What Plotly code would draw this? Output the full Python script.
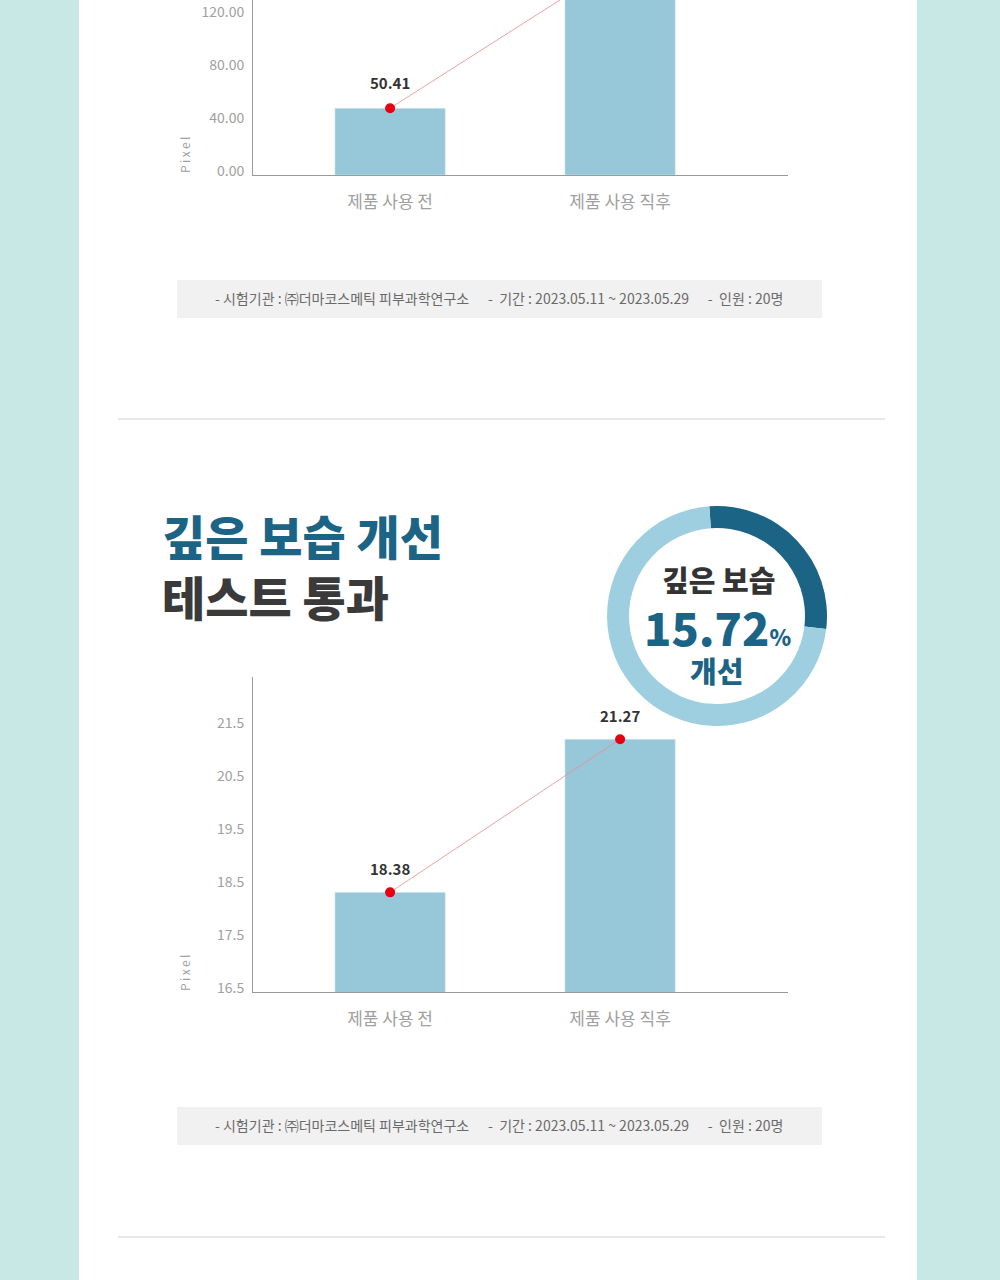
import plotly.graph_objects as go

# ---------------- data ----------------
categories = ["제품 사용 전", "제품 사용 직후"]
top_values = [50.41, 161.0]          # second value is cut off at page top (estimated)
top_ticks = [0, 40, 80, 120]
moist_values = [18.38, 21.27]
moist_ticks = [16.5, 17.5, 18.5, 19.5, 20.5, 21.5]
ring_values = [28, 72]               # dark arc / light arc as drawn
title_line1 = "깊은 보습 개선"
title_line2 = "테스트 통과"
badge_top = "깊은 보습"
badge_value = "15.72"
badge_bottom = "개선"
SP = "\u00a0"
info_text = ("- 시험기관 : ㈜더마코스메틱 피부과학연구소" + SP * 6 +
             "-" + SP * 2 + "기간 : 2023.05.11 ~ 2023.05.29" + SP * 6 +
             "-" + SP * 2 + "인원 : 20명")

# ---------------- style ----------------
W, H = 1000, 1280
FONT = "Noto Sans CJK KR"
BG = "#c8e8e6"
BAR = "#97c8da"
TEAL = "#1b6486"
RING_LIGHT = "#9dcfe0"
DARK = "#3a3a3a"
GRAY = "#a0a0a0"
RED = "#e60012"


def px(x):
    return x / W


def py(y):
    return 1 - y / H


fig = go.Figure()

fig.add_trace(go.Bar(x=categories, y=top_values, marker_color=BAR, width=0.48,
                     xaxis="x", yaxis="y", showlegend=False, hoverinfo="skip"))
fig.add_trace(go.Scatter(x=categories, y=top_values, mode="lines+markers",
                         line=dict(color="#ee8a8a", width=0.8),
                         marker=dict(color=RED, size=10),
                         xaxis="x", yaxis="y", showlegend=False, cliponaxis=True))
fig.add_trace(go.Bar(x=categories, y=moist_values, marker_color=BAR, width=0.48,
                     xaxis="x2", yaxis="y2", showlegend=False, hoverinfo="skip"))
fig.add_trace(go.Scatter(x=categories, y=moist_values, mode="lines+markers",
                         line=dict(color="#ee8a8a", width=0.8),
                         marker=dict(color=RED, size=10),
                         xaxis="x2", yaxis="y2", showlegend=False, cliponaxis=True))

fig.add_trace(go.Pie(values=ring_values, hole=0.8, sort=False, direction="clockwise",
                     rotation=-4, marker=dict(colors=[TEAL, RING_LIGHT], line=dict(width=0)),
                     textinfo="none", hoverinfo="skip", showlegend=False,
                     domain=dict(x=[px(607), px(827)], y=[py(726), py(506)])))

xr = [-0.596, 1.73]
common_x = dict(type="category", range=xr, showline=True, linecolor="#9a9a9a", linewidth=1,
                ticks="", showgrid=False, zeroline=False, fixedrange=True, automargin=False,
                tickfont=dict(family=FONT, size=17, color=GRAY), ticklabelstandoff=12)
common_y = dict(showline=True, linecolor="#9a9a9a", linewidth=1, ticks="", showgrid=False,
                zeroline=False, automargin=False, tickfont=dict(family=FONT, size=14, color=GRAY),
                ticklabelshift=-4, ticklabelstandoff=5)

top_scale = 40 / 53.0
fig.update_layout(
    width=W, height=H, autosize=False, margin=dict(l=0, r=0, t=0, b=0, pad=0, autoexpand=False),
    paper_bgcolor=BG, plot_bgcolor="rgba(0,0,0,0)",
    xaxis=dict(domain=[px(253), px(788)], anchor="y", **common_x),
    yaxis=dict(domain=[py(175), 1.0], anchor="x", range=[0, 175 * top_scale],
               tickvals=top_ticks, tickformat=".2f", **common_y),
    xaxis2=dict(domain=[px(253), px(788)], anchor="y2", **common_x),
    yaxis2=dict(domain=[py(992), py(677)], anchor="x2",
                range=[16.5, 16.5 + (992 - 677) / 53.0],
                tickvals=moist_ticks, tickformat=".1f", **common_y),
)

shapes = [
    dict(type="rect", xref="paper", yref="paper", x0=px(79), x1=px(917), y0=-0.01, y1=1,
         fillcolor="white", line=dict(width=0), layer="below"),
    dict(type="line", xref="paper", yref="paper", x0=px(118), x1=px(885), y0=py(419), y1=py(419),
         line=dict(color="#cfcfcf", width=1)),
    dict(type="line", xref="paper", yref="paper", x0=px(118), x1=px(885), y0=py(1237), y1=py(1237),
         line=dict(color="#cfcfcf", width=1)),
    dict(type="rect", xref="paper", yref="paper", x0=px(177), x1=px(822), y0=py(318), y1=py(280),
         fillcolor="#f1f1f1", line=dict(width=0), layer="below"),
    dict(type="rect", xref="paper", yref="paper", x0=px(177), x1=px(822), y0=py(1145), y1=py(1107),
         fillcolor="#f1f1f1", line=dict(width=0), layer="below"),
]
fig.update_layout(shapes=shapes)


def note(x, y, text, size, color, xanchor="center", weight=None, **kw):
    f = dict(family=FONT, size=size, color=color)
    if weight:
        f["weight"] = weight
    return dict(x=x, y=y, xref="paper", yref="paper", text=text, showarrow=False,
                xanchor=xanchor, yanchor="middle", font=f, **kw)


ann = []
top_max = 175 * top_scale
for c, v in zip(categories, top_values):
    if v <= top_max - 20:
        ann.append(dict(x=c, y=v, xref="x", yref="y", text=f"<b>{v:.2f}</b>", showarrow=False,
                        xanchor="center", yanchor="middle",
                        yshift=26, font=dict(family=FONT, size=15, color="#333333")))
for c, v in zip(categories, moist_values):
    ann.append(dict(x=c, y=v, xref="x2", yref="y2", text=f"<b>{v:.2f}</b>", showarrow=False,
                    xanchor="center", yanchor="middle",
                    yshift=24, font=dict(family=FONT, size=15, color="#333333")))
for yc in (155, 973):
    ann.append(note(px(184), py(yc), "P\u2009i\u2009x\u2009e\u2009l", 12, GRAY, textangle=-90))
for yc in (298, 1125):
    ann.append(note(px(499), py(yc), info_text, 14, "#6a6a6a"))
ann.append(note(px(160), py(565),
                f"<span style='color:{TEAL}'>{title_line1}</span><br>{title_line2}",
                47, DARK, xanchor="left", weight=900, align="left"))
ann.append(note(px(718), py(579), badge_top, 29, "#333333", weight=900))
ann.append(note(px(717), py(626),
                f"{badge_value}<span style='font-size:22px'>%</span>", 45, TEAL, weight=900))
ann.append(note(px(716), py(670), badge_bottom, 29, TEAL, weight=900))
fig.update_layout(annotations=ann)

fig.write_html("out.html", config={"responsive": False})
